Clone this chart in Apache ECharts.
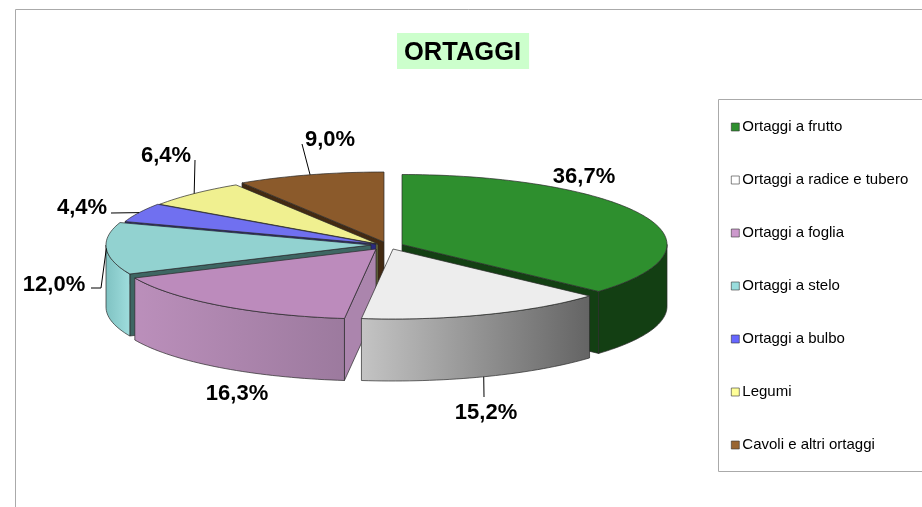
<!DOCTYPE html>
<html>
<head>
<meta charset="utf-8">
<style>html,body{margin:0;padding:0;background:#fff}#c{width:922px;height:507px}</style>
<script src="https://cdn.jsdelivr.net/npm/echarts@6/dist/echarts.min.js"></script>
</head>
<body>
<div id="c"></div>
<script>
// ---------- data ----------
const titleText = 'ORTAGGI';
const categories = ['Ortaggi a frutto','Ortaggi a radice e tubero','Ortaggi a foglia','Ortaggi a stelo','Ortaggi a bulbo','Legumi','Cavoli e altri ortaggi'];
const values = [36.7, 15.2, 16.3, 12.0, 4.4, 6.4, 9.0];

// ---------- styling / layout ----------
const FONT = '"Liberation Sans", Arial, sans-serif';
const legendColors = ['#2E8F2E','#FFFFFF','#CC99CC','#99DDDD','#6666FF','#FFFF99','#996633'];
const topColors    = ['#2E8F2E','#EDEDED','#BC8BBC','#92D2D0','#7070F0','#F0F090','#8B5A2B'];
const cutColors    = ['#133F13','#8A8A8A','#AB85AD','#3E6663','#2A2A80','#77773F','#432A12'];
const wallStops    = [['#133F13','#133F13'],['#C4C4C4','#646464'],['#BB8FBB','#9C7A9E'],['#7FC2C2','#9FDDDD'],['#555','#555'],['#555','#555'],['#555','#555']];
const RX = 265, RY = 70, DEPTH = 62;
// exploded apex of every slice, in pixels
const apexes = [[402,244.5],[393,249],[376,249],[371,245],[376,244],[378,244],[384,242]];
// back-to-front painting order
const paintRank = [4,6,5,3,2,1,0];
// percent label centre and optional leader elbow, in pixels
const labelAt = [[584,177],[486,413],[237,394],[54,285],[82,208],[166,156],[330,140]];
const leaders = [null,[[484,397]],null,[[101,288],[91,288]],[[111,213]],[[195,160]],[[302,144]]];
const leaderNudge = [0,0.5,0,0,0,0,0];

const total = values.reduce((a,b)=>a+b,0);
const starts = []; values.reduce((acc,v,i)=>{starts[i]=acc; return acc+v/total*360;},0);
const rad = d => d*Math.PI/180;
function rim(i, deg, drop){
  const [ax,ay] = apexes[i];
  return [ax + RX*Math.sin(rad(deg)), ay - RY*Math.cos(rad(deg)) + (drop||0)];
}
function arc(i, a, b, drop){
  const pts = [], n = Math.max(2, Math.ceil(Math.abs(b-a)/1.5));
  for (let k=0;k<=n;k++) pts.push(rim(i, a+(b-a)*k/n, drop));
  return pts;
}
const EDGE = {stroke:'#2a2a2a', lineWidth:0.7, lineJoin:'round'};
function poly(points, fill, z2){
  return {type:'polygon', z2, silent:true, shape:{points}, style:Object.assign({fill}, EDGE)};
}
function renderSlice(i, params, api){
  const v = api.value(0);
  const a = starts[i], b = a + v/total*360;
  const [ax,ay] = apexes[i];
  const kids = [];
  // cut faces that turn towards the viewer
  const face = deg => { const p = rim(i,deg); return [[ax,ay],p,[p[0],p[1]+DEPTH],[ax,ay+DEPTH]]; };
  if (Math.sin(rad(a)) < -1e-6) kids.push(poly(face(a), cutColors[i], 1));
  if (Math.sin(rad(b)) >  1e-6) kids.push(poly(face(b), cutColors[i], 1));
  // outer wall, only the front half of the rim
  const wa = Math.max(a,90), wb = Math.min(b,270);
  if (wb > wa){
    const upper = arc(i,wa,wb,0), lower = arc(i,wa,wb,DEPTH).reverse();
    const s = wallStops[i];
    const grad = new echarts.graphic.LinearGradient(0,0,1,0,[
      {offset:0,color:s[0]},{offset:1,color:s[1]}]);
    kids.push(poly(upper.concat(lower), grad, 2));
  }
  // top face
  kids.push(poly([[ax,ay]].concat(arc(i,a,b,0)), topColors[i], 3));
  // percent label and its leader
  const mid = (a+b)/2 + leaderNudge[i];
  const lead = leaders[i];
  if (lead){
    const anchor = rim(i, mid, i===1 ? DEPTH : 0);
    kids.push({type:'polyline', silent:true, z2:4, shape:{points:[anchor].concat(lead)},
      style:{fill:null, stroke:'#000', lineWidth:1}});
  }
  kids.push({type:'text', silent:true, z2:5, style:{
    x:labelAt[i][0], y:labelAt[i][1], text:v.toFixed(1).replace('.',',')+'%',
    align:'center', verticalAlign:'middle', fill:'#000',
    font:'bold 22px '+FONT}});
  return {type:'group', children:kids};
}

const chart = echarts.init(document.getElementById('c'), null, {renderer:'canvas'});
chart.setOption({
  animation:false,
  backgroundColor:'#fff',
  title:{text:titleText, left:397, top:33, padding:[6,8,2,7], backgroundColor:'#CCFFCC',
    textStyle:{fontFamily:FONT, fontSize:25.5, fontWeight:'bold', color:'#000', lineHeight:28}},
  legend:{
    orient:'vertical', left:731, top:119, padding:0, itemGap:37, itemWidth:8, itemHeight:8,
    icon:'rect', selectedMode:false,
    textStyle:{fontFamily:FONT, fontSize:15, color:'#000', lineHeight:16, padding:[0,0,0,-2]},
    data:categories.map((name,i)=>({name, icon:'rect',
      itemStyle:{color:legendColors[i], borderColor:'#333', borderWidth:0.6}}))
  },
  graphic:[
    {type:'polyline', silent:true, z:0, shape:{points:[[15.5,507],[15.5,9.5],[922,9.5]]}, style:{fill:null, stroke:'#AAAAAA', lineWidth:1}},
    {type:'rect', silent:true, z:0, shape:{x:718.5,y:99.5,width:260,height:372}, style:{fill:'#fff', stroke:'#AAAAAA', lineWidth:1}}
  ],
  series:categories.map((name,i)=>({
    type:'custom', name, coordinateSystem:'none', z:2+paintRank[i],
    itemStyle:{color:legendColors[i]},
    data:[[values[i]]],
    renderItem:(p,api)=>renderSlice(i,p,api)
  }))
});
</script>
</body>
</html>
